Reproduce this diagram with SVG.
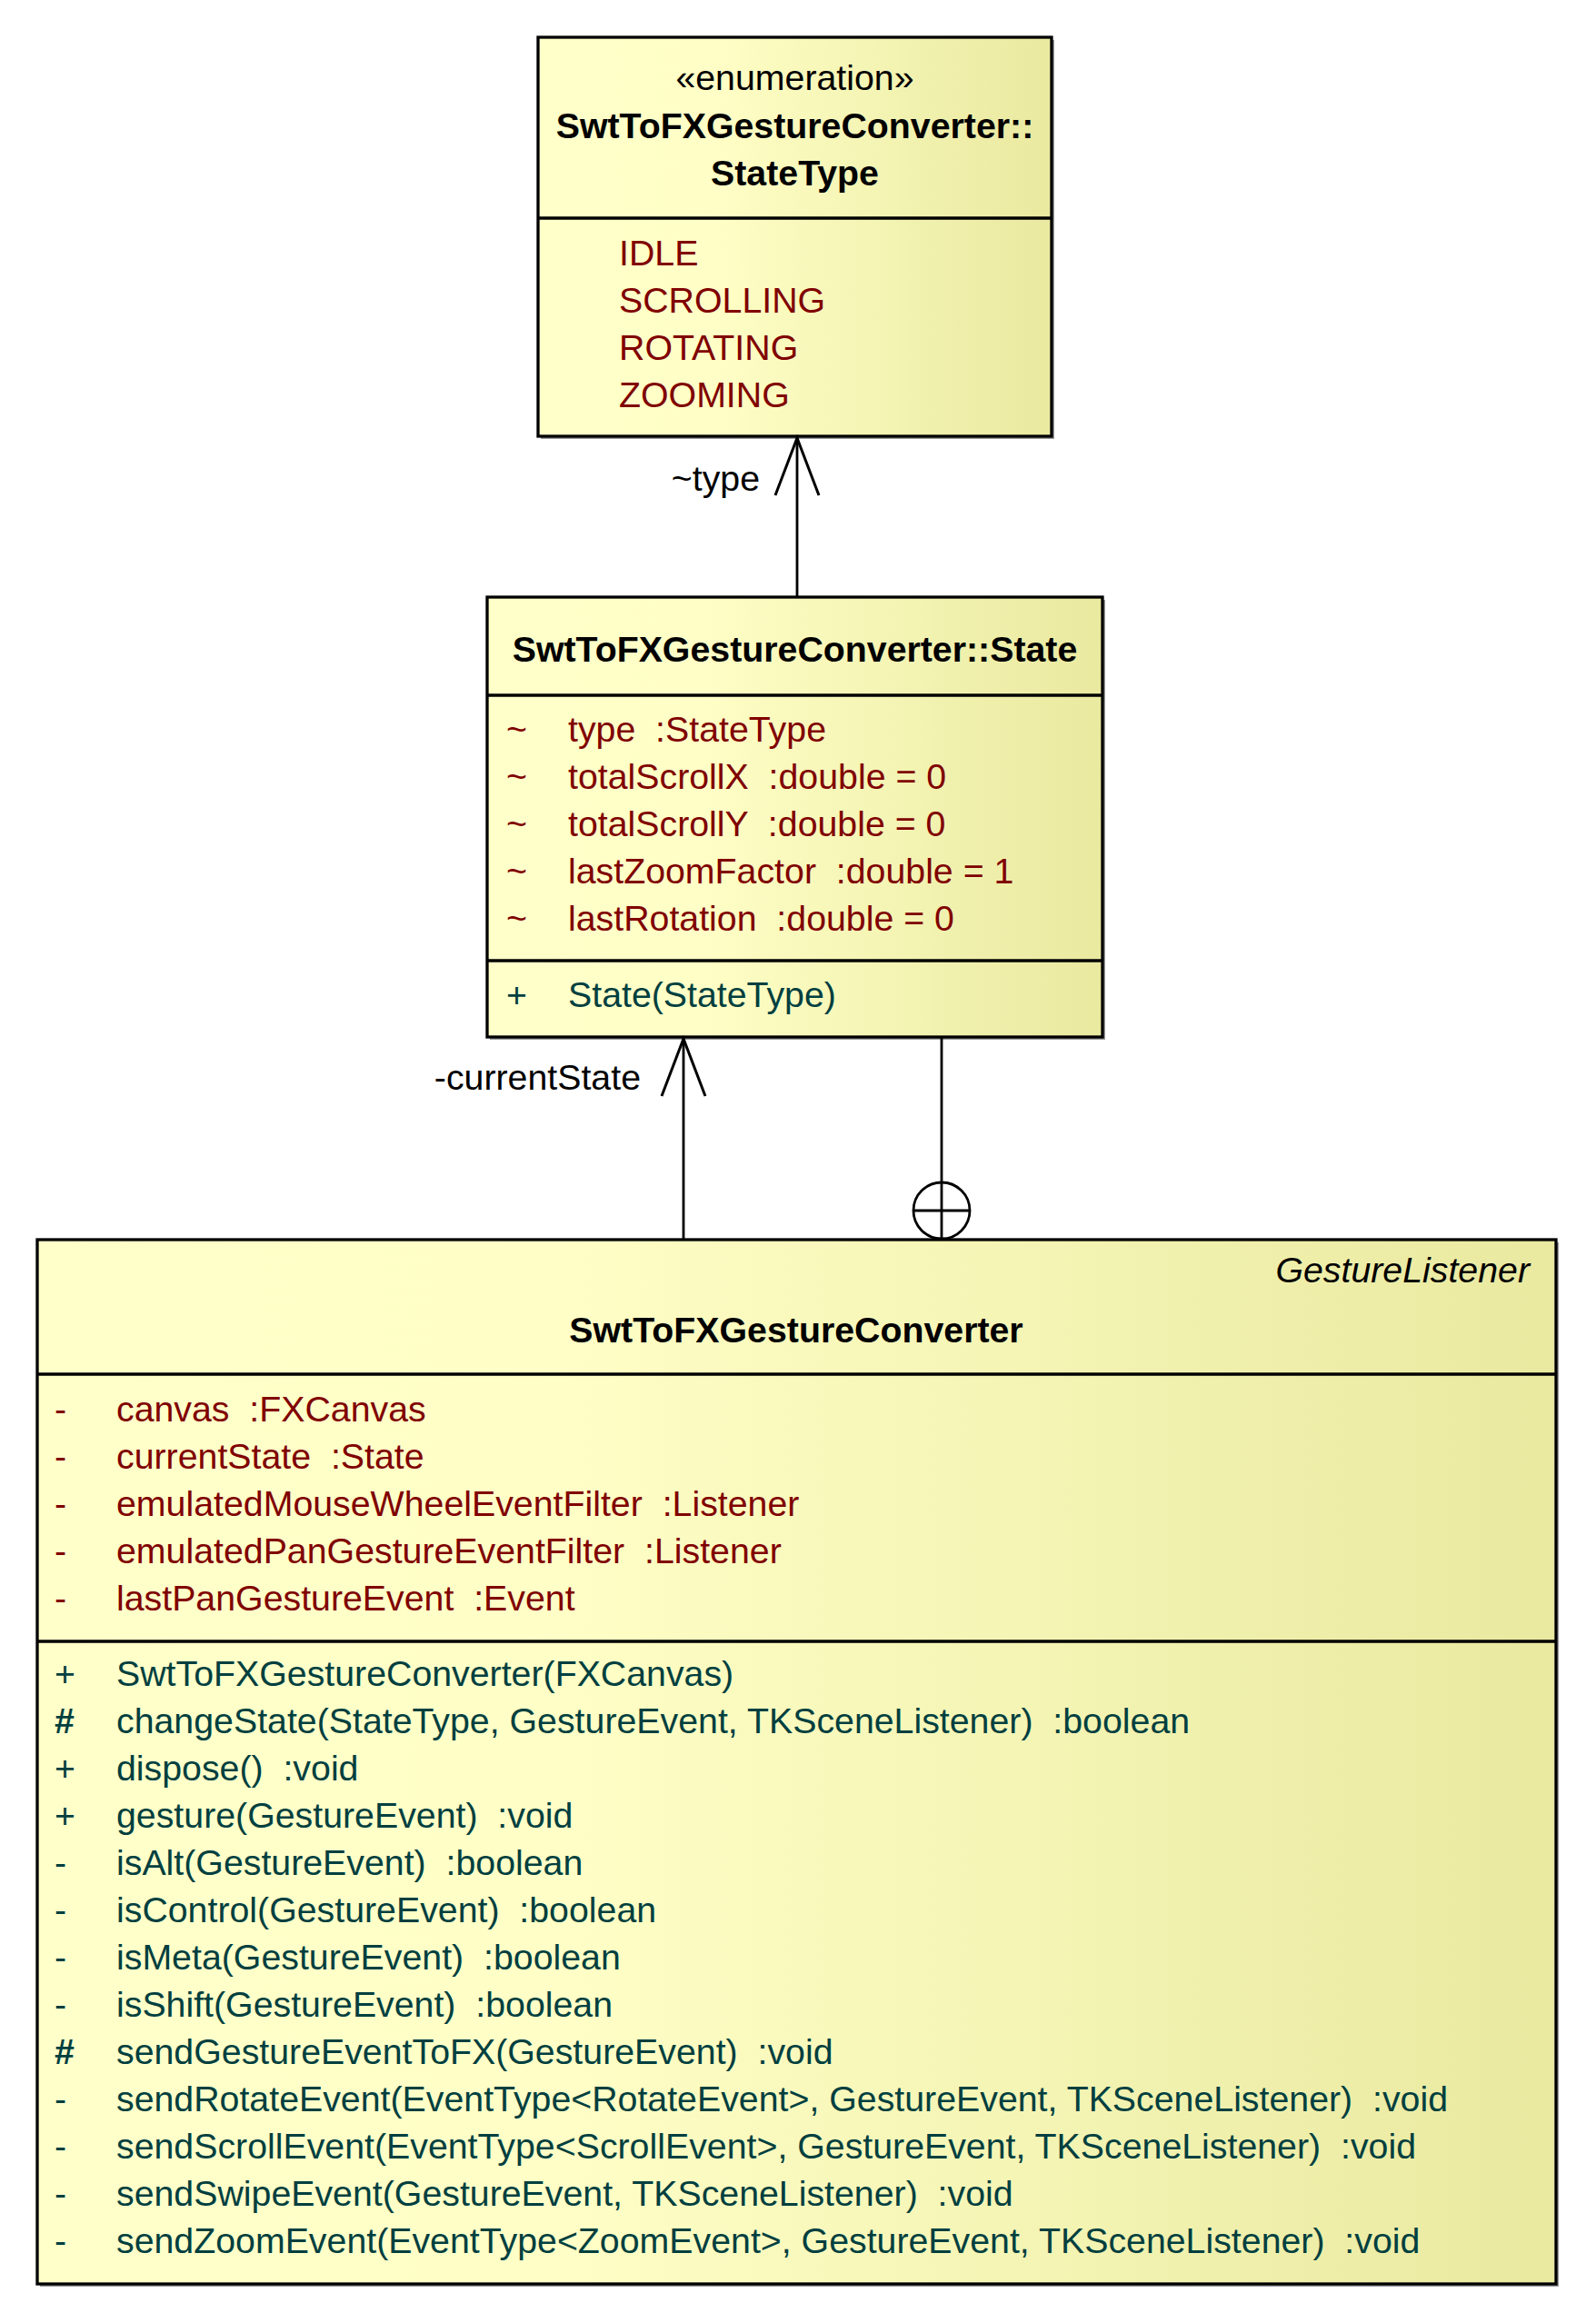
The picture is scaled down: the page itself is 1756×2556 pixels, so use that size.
<svg xmlns="http://www.w3.org/2000/svg" width="1756" height="2556" viewBox="0 0 1756 2556">
<style>
text{font-family:"Liberation Sans",Arial,sans-serif;font-size:39.3px;white-space:pre}
.title{font-weight:bold;fill:#000;text-anchor:middle}
.stereo{fill:#000;text-anchor:middle}
.attr{fill:#800000}
.meth{fill:#003f3f}
.hash{font-weight:bold}
.lbl{fill:#000;text-anchor:end}
.ital{font-style:italic;fill:#000;text-anchor:end}
.box{fill:url(#grad);stroke:#000;stroke-width:3.3}
.shadow{fill:#9a9a9a}
.div{stroke:#000;stroke-width:3.3}
.conn{stroke:#000;stroke-width:2.8;fill:none}
</style>
<defs>
<linearGradient id="grad" x1="0" y1="0" x2="1" y2="0">
<stop offset="0" stop-color="#ffffca"/>
<stop offset="0.35" stop-color="#fefec6"/>
<stop offset="1" stop-color="#e9e9a0"/>
</linearGradient>
<marker id="open" viewBox="-70 -30 80 60" refX="0" refY="0" markerUnits="userSpaceOnUse" markerWidth="80" markerHeight="60" orient="auto">
<path d="M-63,-24 L0,0 L-63,24" fill="none" stroke="#000" stroke-width="3"/>
</marker>
</defs>
<rect width="1756" height="2556" fill="#fff"/>

<g id="StateType">
<rect class="shadow" x="595" y="44" width="565" height="439"/>
<rect class="box" x="592" y="41" width="565" height="439"/>
<text class="stereo" x="874.5" y="99">«enumeration»</text>
<text class="title" x="874.5" y="152">SwtToFXGestureConverter::</text>
<text class="title" x="874.5" y="204">StateType</text>
<line class="div" x1="592" y1="240" x2="1157" y2="240"/>
<text class="attr" x="681" y="292">IDLE</text>
<text class="attr" x="681" y="344">SCROLLING</text>
<text class="attr" x="681" y="396">ROTATING</text>
<text class="attr" x="681" y="448">ZOOMING</text>
</g>

<g id="State">
<rect class="shadow" x="539" y="660" width="677" height="484"/>
<rect class="box" x="536" y="657" width="677" height="484"/>
<text class="title" x="874.5" y="728">SwtToFXGestureConverter::State</text>
<line class="div" x1="536" y1="765" x2="1213" y2="765"/>
<text class="attr" x="557" y="816">~</text><text class="attr" x="625" y="816">type  :StateType</text>
<text class="attr" x="557" y="868">~</text><text class="attr" x="625" y="868">totalScrollX  :double = 0</text>
<text class="attr" x="557" y="920">~</text><text class="attr" x="625" y="920">totalScrollY  :double = 0</text>
<text class="attr" x="557" y="972">~</text><text class="attr" x="625" y="972">lastZoomFactor  :double = 1</text>
<text class="attr" x="557" y="1024">~</text><text class="attr" x="625" y="1024">lastRotation  :double = 0</text>
<line class="div" x1="536" y1="1057" x2="1213" y2="1057"/>
<text class="meth" x="557" y="1108">+</text><text class="meth" x="625" y="1108">State(StateType)</text>
</g>

<g id="SwtToFXGestureConverter">
<rect class="shadow" x="44" y="1367" width="1671" height="1149"/>
<rect class="box" x="41" y="1364" width="1671" height="1149"/>
<text class="ital" x="1683" y="1411">GestureListener</text>
<text class="title" x="876" y="1477">SwtToFXGestureConverter</text>
<line class="div" x1="41" y1="1512" x2="1712" y2="1512"/>
<text class="attr" x="60" y="1564">-</text><text class="attr" x="128" y="1564">canvas  :FXCanvas</text>
<text class="attr" x="60" y="1616">-</text><text class="attr" x="128" y="1616">currentState  :State</text>
<text class="attr" x="60" y="1668">-</text><text class="attr" x="128" y="1668">emulatedMouseWheelEventFilter  :Listener</text>
<text class="attr" x="60" y="1720">-</text><text class="attr" x="128" y="1720">emulatedPanGestureEventFilter  :Listener</text>
<text class="attr" x="60" y="1772">-</text><text class="attr" x="128" y="1772">lastPanGestureEvent  :Event</text>
<line class="div" x1="41" y1="1806" x2="1712" y2="1806"/>
<text class="meth" x="60" y="1855">+</text><text class="meth" x="128" y="1855">SwtToFXGestureConverter(FXCanvas)</text>
<text class="meth hash" x="60" y="1907">#</text><text class="meth" x="128" y="1907">changeState(StateType, GestureEvent, TKSceneListener)  :boolean</text>
<text class="meth" x="60" y="1959">+</text><text class="meth" x="128" y="1959">dispose()  :void</text>
<text class="meth" x="60" y="2011">+</text><text class="meth" x="128" y="2011">gesture(GestureEvent)  :void</text>
<text class="meth" x="60" y="2063">-</text><text class="meth" x="128" y="2063">isAlt(GestureEvent)  :boolean</text>
<text class="meth" x="60" y="2115">-</text><text class="meth" x="128" y="2115">isControl(GestureEvent)  :boolean</text>
<text class="meth" x="60" y="2167">-</text><text class="meth" x="128" y="2167">isMeta(GestureEvent)  :boolean</text>
<text class="meth" x="60" y="2219">-</text><text class="meth" x="128" y="2219">isShift(GestureEvent)  :boolean</text>
<text class="meth hash" x="60" y="2271">#</text><text class="meth" x="128" y="2271">sendGestureEventToFX(GestureEvent)  :void</text>
<text class="meth" x="60" y="2323">-</text><text class="meth" x="128" y="2323">sendRotateEvent(EventType&lt;RotateEvent&gt;, GestureEvent, TKSceneListener)  :void</text>
<text class="meth" x="60" y="2375">-</text><text class="meth" x="128" y="2375">sendScrollEvent(EventType&lt;ScrollEvent&gt;, GestureEvent, TKSceneListener)  :void</text>
<text class="meth" x="60" y="2427">-</text><text class="meth" x="128" y="2427">sendSwipeEvent(GestureEvent, TKSceneListener)  :void</text>
<text class="meth" x="60" y="2479">-</text><text class="meth" x="128" y="2479">sendZoomEvent(EventType&lt;ZoomEvent&gt;, GestureEvent, TKSceneListener)  :void</text>
</g>

<g id="connectors">
<line class="conn" x1="877" y1="657" x2="877" y2="482" marker-end="url(#open)"/>
<text class="lbl" x="836" y="540">~type</text>
<line class="conn" x1="752" y1="1364" x2="752" y2="1143" marker-end="url(#open)"/>
<text class="lbl" x="705" y="1199">-currentState</text>
<line class="conn" x1="1036" y1="1141" x2="1036" y2="1364"/>
<circle class="conn" cx="1036" cy="1332" r="31"/>
<line class="conn" x1="1005" y1="1332" x2="1067" y2="1332"/>
</g>
</svg>
